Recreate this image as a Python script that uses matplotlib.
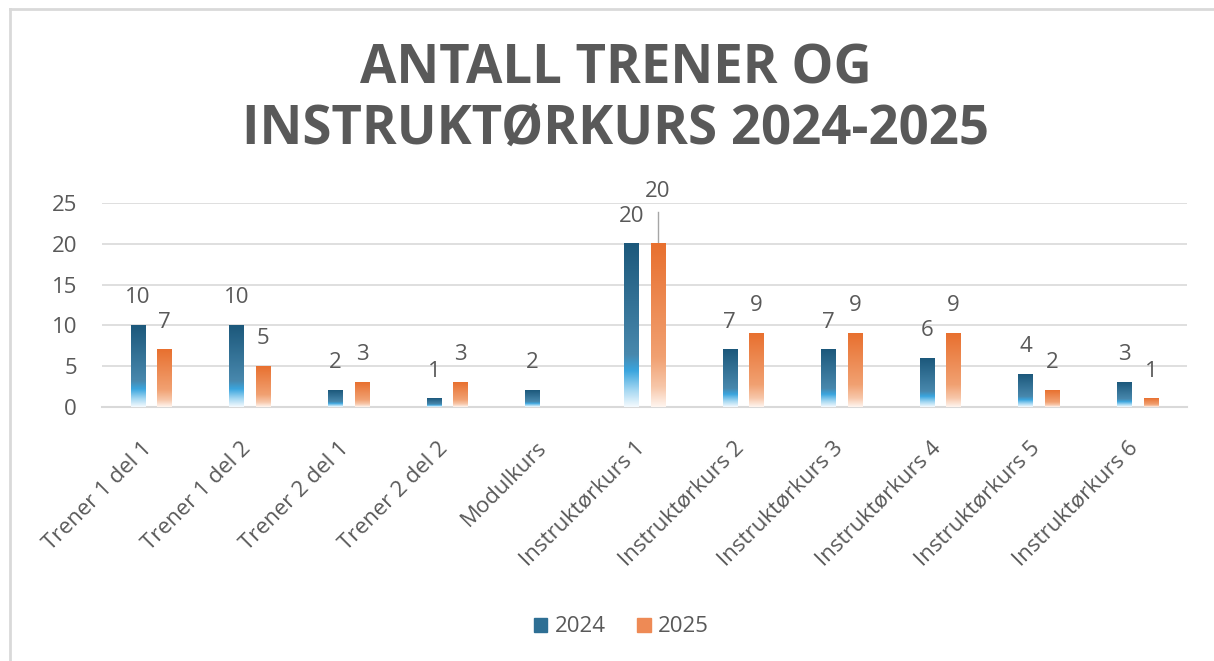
import numpy as np
import matplotlib
matplotlib.use("Agg")
import matplotlib.pyplot as plt
import matplotlib.transforms as mtransforms
from matplotlib.colors import LinearSegmentedColormap
from matplotlib.lines import Line2D
from matplotlib.patches import Rectangle

plt.rcParams['font.family'] = ['Open Sans', 'DejaVu Sans']

kurs = ["Trener 1 del 1", "Trener 1 del 2", "Trener 2 del 1", "Trener 2 del 2",
        "Modulkurs", "Instruktørkurs 1", "Instruktørkurs 2", "Instruktørkurs 3",
        "Instruktørkurs 4", "Instruktørkurs 5", "Instruktørkurs 6"]
aar = ["2024", "2025"]
antall_2024 = [10, 10, 2, 1, 2, 20, 7, 7, 6, 4, 3]
antall_2025 = [7, 5, 3, 3, np.nan, 20, 9, 9, 9, 2, 1]

GREY = "#595959"

# gradient per bar, bottom (0) -> top (1)
cm_blue = LinearSegmentedColormap.from_list("b", [
    (0.0, "#F4FAFE"), (0.10, "#A6D8F2"), (0.22, "#3AA5DE"),
    (0.32, "#4888AD"), (1.0, "#1C587B")])
cm_orange = LinearSegmentedColormap.from_list("o", [
    (0.0, "#FFF5EF"), (0.12, "#F7C7AA"), (0.30, "#F1A172"),
    (1.0, "#E8702F")])

fig = plt.figure(figsize=(12.14, 6.61), dpi=100)
W, H = 1214, 661
ax = fig.add_axes([102 / W, 1 - 407 / H, (1187 - 102) / W, (407 - 203) / H])

x = np.arange(len(kurs))
bw = 0.148
off = 0.135
grad = np.linspace(0, 1, 256).reshape(-1, 1)

series = [(antall_2024, -off, cm_blue), (antall_2025, off, cm_orange)]
for si, (vals, dx, cm) in enumerate(series):
    v = np.array(vals, dtype=float)
    bars = ax.bar(x + dx, np.nan_to_num(v), bw, color="none", edgecolor="none")
    for i, r in enumerate(bars):
        if np.isnan(v[i]) or v[i] == 0:
            continue
        ax.imshow(grad, extent=[r.get_x(), r.get_x() + r.get_width(), 0, r.get_height()],
                  origin="lower", aspect="auto", cmap=cm, zorder=3)
        lift = 20
        if si == 1 and i == 5:
            # label moved up with a leader line
            lift = 38
            ax.plot([x[i] + dx, x[i] + dx], [v[i], v[i] + 3.9], color="#A6A6A6",
                    lw=1, zorder=2, clip_on=False)
        ax.annotate(f"{int(v[i])}", xy=(x[i] + dx, v[i]), xytext=(0, lift),
                    textcoords="offset points", ha="center", va="center",
                    fontsize=16, color=GREY, zorder=4, annotation_clip=False)

ax.set_xlim(-0.5, len(kurs) - 0.5)
ax.set_ylim(0, 25)
ax.set_yticks(range(0, 26, 5))
ax.yaxis.grid(True, color="#D9D9D9", lw=1.2)
ax.set_axisbelow(True)
for s in ["top", "right", "left"]:
    ax.spines[s].set_visible(False)
ax.spines["bottom"].set_color("#D9D9D9")
ax.spines["bottom"].set_linewidth(1.5)
ax.tick_params(axis="both", length=0, colors=GREY, labelsize=16)
ax.tick_params(axis="y", pad=18)
ax.tick_params(axis="x", pad=22)
ax.set_xticks(x)
ax.set_xticklabels(kurs, rotation=45, ha="right", va="top", rotation_mode="anchor")
shift = mtransforms.ScaledTranslation(-10 / 100, 0, fig.dpi_scale_trans)
for lab in ax.get_xticklabels():
    lab.set_transform(lab.get_transform() + shift)

fig.text(0.507, 1 - 100 / H, "ANTALL TRENER OG\nINSTRUKTØRKURS 2024-2025",
         ha="center", va="center", fontsize=38, fontweight="bold", color=GREY,
         linespacing=1.17)

handles = [Rectangle((0, 0), 1, 1, color="#2E6F94"), Rectangle((0, 0), 1, 1, color="#EE8A55")]
fig.legend(handles, aar, loc="center", bbox_to_anchor=(0.512, 1 - 627 / H), ncol=2,
           frameon=False, fontsize=16, labelcolor=GREY, handlelength=0.6,
           handleheight=0.6, handletextpad=0.35, columnspacing=1.4)

# chart border
fig.add_artist(Line2D([10 / W, 10 / W], [0, 1 - 9 / H], color="#D9D9D9", lw=2))
fig.add_artist(Line2D([10 / W, 1], [1 - 9 / H, 1 - 9 / H], color="#D9D9D9", lw=2))

fig.savefig("out.png", dpi=100)
